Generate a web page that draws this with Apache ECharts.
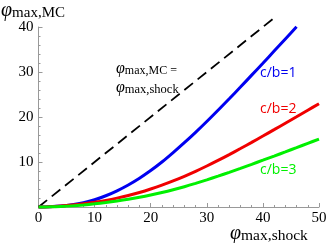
<!DOCTYPE html>
<html>
<head>
<meta charset="utf-8">
<script src="https://cdn.jsdelivr.net/npm/echarts@6/dist/echarts.min.js"></script>
<style>html,body{margin:0;padding:0;background:#fff}#c{width:332px;height:243px}</style>
</head>
<body>
<div id="c"></div>
<script>
// phi_max,shock sample points
var xBlue = [0,2,4,6,8,10,12,14,16,18,20,22,24,26,28,30,32,34,36,38,40,42,44,46];
var yBlue = [0,0.05,0.2,0.5,0.95,1.6,2.5,3.6,4.9,6.4,8.1,10.0,12.1,14.3,16.6,19.0,21.5,24.05,26.65,29.3,31.95,34.65,37.35,40.05];
var xRG = [0,2,4,6,8,10,12,14,16,18,20,22,24,26,28,30,32,34,36,38,40,42,44,46,48,50];
var yRed = [0,0.05,0.2,0.42,0.7,1.05,1.47,1.97,2.55,3.23,4.01,4.87,5.81,6.83,7.93,9.11,10.35,11.65,12.99,14.37,15.77,17.19,18.62,20.06,21.51,22.96];
var yGreen = [0,0.03,0.11,0.25,0.45,0.7,1.0,1.33,1.71,2.15,2.65,3.21,3.83,4.51,5.25,6.03,6.85,7.71,8.59,9.49,10.4,11.32,12.25,13.19,14.14,15.09];
var xDiag = [0,42];
var yDiag = [0,42];
var xTicks = [0,10,20,30,40,50];
var yTicks = [0,10,20,30,40];
var labels = ['c/b=1','c/b=2','c/b=3'];
var colors = ['#0000f0','#f00000','#00f000'];

function pairs(xs, ys){ return xs.map(function(x,i){return [x, ys[i]];}); }

var serif = 'Liberation Serif';
var chart = echarts.init(document.getElementById('c'), null, {renderer:'canvas'});
var axisCol = '#999999';
chart.setOption({
  animation:false,
  grid:{left:38.5, right:13, top:27, bottom:36},
  xAxis:{type:'value', min:0, max:50, interval:10,
    axisLine:{lineStyle:{color:axisCol, width:1}},
    axisTick:{inside:true, length:4, lineStyle:{color:axisCol}},
    minorTick:{show:true, splitNumber:5, length:2, lineStyle:{color:axisCol}},
    splitLine:{show:false},
    axisLabel:{fontFamily:serif, fontSize:15, color:'#000', margin:4,
      formatter:function(v){return xTicks.indexOf(v)>=0? String(v):'';}}
  },
  yAxis:{type:'value', min:0, max:40, interval:10,
    axisLine:{show:true, lineStyle:{color:axisCol, width:1}},
    axisTick:{show:true, inside:true, length:4, lineStyle:{color:axisCol}},
    minorTick:{show:true, splitNumber:5, length:2, lineStyle:{color:axisCol}},
    splitLine:{show:false},
    axisLabel:{fontFamily:serif, fontSize:15, color:'#000', margin:5,
      formatter:function(v){return (yTicks.indexOf(v)>=0 && v!==0)? String(v):'';}}
  },
  series:[
    {type:'line', data:pairs(xDiag,yDiag), showSymbol:false, clip:false,
      lineStyle:{color:'#000', width:1.8, type:[11,6]}},
    {type:'line', data:pairs(xBlue,yBlue), showSymbol:false, smooth:0.3, clip:false,
      lineStyle:{color:colors[0], width:3}},
    {type:'line', data:pairs(xRG,yRed), showSymbol:false, smooth:0.3, clip:false,
      lineStyle:{color:colors[1], width:3}},
    {type:'line', data:pairs(xRG,yGreen), showSymbol:false, smooth:0.3, clip:false,
      lineStyle:{color:colors[2], width:3}}
  ],
  graphic:[
    {type:'text', left:1, top:1, style:{text:'{p|φ}{s|max,MC}', rich:{
      p:{fontFamily:serif, fontStyle:'italic', fontSize:20, verticalAlign:'bottom', fill:'#000'},
      s:{fontFamily:serif, fontSize:15, verticalAlign:'bottom', fill:'#000'}}}},
    {type:'text', left:230, top:224, style:{text:'{p|φ}{s|max,shock}', rich:{
      p:{fontFamily:serif, fontStyle:'italic', fontSize:20, verticalAlign:'bottom', fill:'#000'},
      s:{fontFamily:serif, fontSize:15.5, verticalAlign:'bottom', fill:'#000'}}}},
    {type:'text', left:116, top:61, style:{text:'{p|φ}{s|max,MC =}', rich:{
      p:{fontFamily:serif, fontStyle:'italic', fontSize:16, verticalAlign:'bottom', fill:'#000'},
      s:{fontFamily:serif, fontSize:12, verticalAlign:'bottom', fill:'#000'}}}},
    {type:'text', left:116, top:80, style:{text:'{p|φ}{s|max,shock}', rich:{
      p:{fontFamily:serif, fontStyle:'italic', fontSize:16, verticalAlign:'bottom', fill:'#000'},
      s:{fontFamily:serif, fontSize:12.5, verticalAlign:'bottom', fill:'#000'}}}},
    {type:'text', left:260, top:66, style:{text:labels[0], fontFamily:'Open Sans', fontSize:14, fill:colors[0]}},
    {type:'text', left:260, top:102, style:{text:labels[1], fontFamily:'Open Sans', fontSize:14, fill:colors[1]}},
    {type:'text', left:260, top:163, style:{text:labels[2], fontFamily:'Open Sans', fontSize:14, fill:colors[2]}}
  ]
});
</script>
</body>
</html>
